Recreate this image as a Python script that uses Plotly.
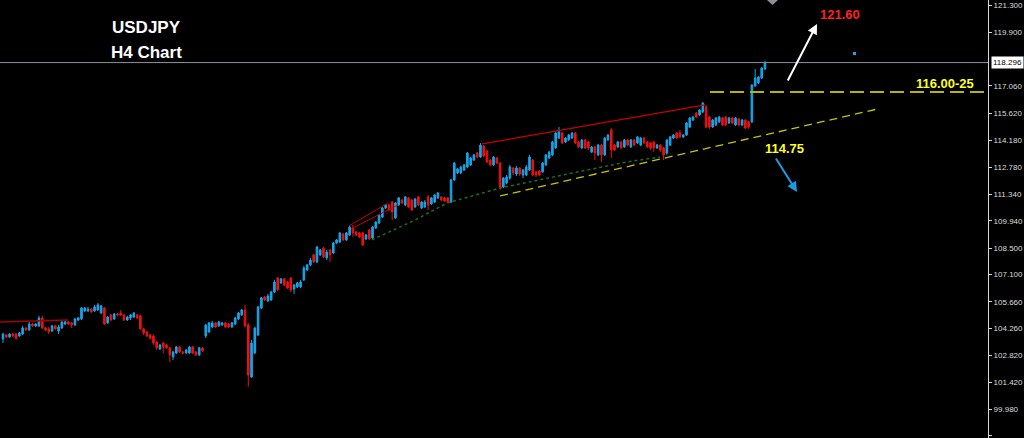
import plotly.graph_objects as go

# ---------------- data (USDJPY H4 candles) ----------------
opens = [
    103.70,103.91,103.81,103.96,103.96,103.86,103.96,104.28,104.18,104.49,104.39,104.39,104.81,104.28,104.23,104.12,104.39,104.12,104.28,104.49,
    104.60,104.55,104.44,104.70,104.76,105.18,105.18,105.28,105.18,105.23,105.07,105.34,104.55,104.97,104.76,105.02,105.07,104.97,104.70,
    104.81,104.86,104.97,104.92,104.23,104.07,103.91,103.86,103.54,103.17,103.49,103.38,103.23,102.75,102.96,103.28,103.01,102.96,102.96,103.28,
    103.01,102.86,103.23,103.86,104.07,104.33,104.55,104.39,104.44,104.55,104.49,104.33,104.49,104.76,104.97,105.23,104.44,101.69,102.96,103.91,105.34,
    105.92,105.71,105.76,106.18,106.92,106.66,106.87,106.71,106.92,106.34,106.45,106.45,106.82,107.34,107.61,108.14,107.77,108.14,108.51,107.98,
    108.40,108.24,108.77,108.82,109.24,108.93,109.19,109.56,109.35,109.30,109.30,108.98,109.46,109.03,109.56,109.83,110.14,
    110.62,110.78,110.93,110.09,110.78,111.04,110.78,111.15,111.04,110.67,111.20,110.62,110.67,111.20,110.83,110.93,111.15,111.20,111.15,111.15,
    110.93,112.10,112.47,112.47,112.62,112.78,112.89,113.15,113.52,113.31,113.89,113.63,113.15,112.89,113.26,112.99,111.73,111.94,
    112.20,112.73,112.41,112.73,112.36,112.36,112.62,113.15,112.52,112.57,112.52,112.89,113.26,113.42,113.79,114.31,114.58,114.10,114.21,114.31,
    114.58,114.10,113.79,114.21,114.10,113.57,113.84,113.42,113.94,113.42,114.21,114.74,113.94,113.84,114.10,113.84,114.21,113.84,114.21,114.05,
    113.94,114.31,114.10,114.05,114.10,113.79,113.94,113.79,113.52,113.94,114.31,114.58,114.58,114.37,114.47,114.89,115.26,115.63,115.53,115.69,
    115.95,115.42,114.89,115.00,115.16,115.37,115.42,115.11,115.37,115.00,115.32,115.00,115.26,115.16,115.16,117.06,117.22,117.48,117.96,
]
highs = [
    104.02,103.96,104.02,104.02,104.02,104.07,104.39,104.33,104.60,104.55,104.55,104.92,104.92,104.33,104.33,104.44,104.44,104.44,104.65,104.65,
    104.65,104.60,104.81,104.86,105.39,105.39,105.39,105.34,105.50,105.60,105.50,105.39,104.92,105.02,105.07,105.07,105.23,105.02,104.92,
    105.02,105.13,105.02,104.97,104.28,104.12,103.96,103.91,103.60,103.44,103.54,103.44,103.28,103.07,103.33,103.33,103.07,103.17,103.33,103.33,
    103.07,103.28,103.28,104.49,104.60,104.65,104.60,104.65,104.60,104.60,104.55,104.60,104.86,105.13,105.28,105.50,104.55,103.65,104.33,105.44,105.92,
    105.97,106.08,106.24,106.82,106.97,106.92,106.92,106.76,106.97,106.60,106.71,106.82,107.56,107.66,107.98,108.19,108.61,108.45,108.56,108.40,
    108.45,108.82,108.98,109.35,109.30,109.35,109.67,109.72,109.40,109.35,109.35,109.24,109.51,109.67,109.93,110.30,110.67,
    110.83,110.83,110.99,110.93,111.20,111.09,111.25,111.20,111.09,111.15,111.25,110.99,111.04,111.30,111.20,111.36,111.46,111.25,111.20,111.20,
    112.15,113.05,112.73,112.84,112.94,113.57,113.31,113.47,113.57,114.05,113.94,113.68,113.20,113.36,113.31,113.05,112.25,112.36,
    112.89,112.78,112.84,112.78,112.68,112.89,113.42,113.20,112.57,112.62,113.05,113.47,113.63,114.16,114.63,114.89,114.63,114.37,114.52,114.63,
    114.63,114.16,114.26,114.26,114.16,113.89,113.89,114.00,114.00,114.37,114.52,114.84,114.00,114.16,114.16,114.26,114.26,114.26,114.26,114.42,
    114.37,114.37,114.16,114.10,114.16,114.00,114.00,113.84,114.26,114.42,114.52,114.63,114.74,114.52,115.16,115.42,115.48,115.69,115.84,116.21,
    116.06,115.48,115.32,115.42,115.48,115.42,115.48,115.42,115.42,115.42,115.37,115.32,115.32,115.21,117.16,117.96,117.59,118.06,118.38,
]
lows = [
    103.49,103.75,103.75,103.81,103.65,103.81,103.91,104.12,104.12,104.33,104.33,104.33,104.23,104.12,103.96,104.07,104.18,103.96,104.23,104.44,
    104.44,104.28,104.39,104.65,104.70,105.13,105.13,105.07,105.13,105.18,105.02,104.44,104.49,104.65,104.70,104.92,104.92,104.65,104.65,
    104.70,104.81,104.76,104.18,103.91,103.81,103.65,103.38,103.12,103.12,102.96,103.17,102.49,102.59,102.91,102.96,102.91,102.91,102.91,102.91,
    102.80,102.80,103.01,103.75,104.02,104.28,104.28,104.33,104.39,104.28,104.28,104.28,104.44,104.70,104.92,104.33,101.17,101.64,102.91,103.86,105.28,
    105.71,105.65,105.71,106.13,106.24,106.60,106.50,106.34,106.18,106.08,106.39,106.39,106.76,107.29,107.56,107.71,107.71,108.08,107.98,107.87,
    107.77,108.19,108.72,108.77,108.88,108.88,109.14,109.09,109.14,109.03,108.61,108.93,108.93,108.98,109.51,109.77,110.09,
    110.56,110.46,109.98,110.04,110.72,110.83,110.72,110.62,110.46,110.62,110.72,110.56,110.62,110.51,110.78,110.88,111.09,110.99,110.93,110.88,
    110.88,112.04,112.41,112.41,112.57,112.73,112.84,113.10,113.26,113.26,113.31,112.99,112.84,112.84,112.94,111.57,111.67,111.88,
    112.10,112.36,112.31,112.31,112.20,112.31,112.57,112.31,112.25,112.31,112.47,112.84,113.20,113.36,113.73,114.26,114.00,114.05,114.16,114.26,
    114.00,113.79,113.73,113.73,113.68,113.52,113.15,113.36,113.05,113.36,114.16,113.26,113.63,113.79,113.73,113.79,113.89,113.79,113.89,114.00,
    113.89,114.00,113.79,113.68,113.57,113.73,113.57,113.15,113.42,113.89,114.26,114.26,114.31,114.31,114.42,114.84,115.21,115.37,115.48,115.63,
    114.84,114.79,114.84,114.95,115.11,114.95,114.95,115.05,115.05,114.95,114.95,114.95,114.79,114.79,115.11,117.01,117.16,117.43,117.90,
]
closes = [
    103.96,103.81,103.96,103.86,103.75,104.02,104.28,104.18,104.49,104.39,104.49,104.81,104.28,104.18,104.07,104.39,104.23,104.33,104.60,104.60,
    104.49,104.44,104.76,104.81,105.34,105.34,105.28,105.13,105.39,105.50,105.44,104.49,104.86,104.70,105.02,104.97,104.97,104.70,104.86,
    104.97,105.07,104.81,104.23,104.02,103.86,103.75,103.49,103.23,103.38,103.28,103.23,102.86,103.01,103.28,103.01,102.96,103.12,103.28,102.96,
    102.86,103.23,103.07,104.44,104.55,104.55,104.33,104.60,104.55,104.33,104.33,104.55,104.81,105.07,105.23,104.39,101.80,103.49,104.28,105.39,105.87,
    105.76,105.97,106.18,106.71,106.29,106.87,106.55,106.39,106.29,106.55,106.66,106.71,107.45,107.61,107.87,107.77,108.56,108.40,108.03,108.29,
    108.14,108.77,108.93,109.30,108.93,109.30,109.61,109.30,109.19,109.09,108.66,109.19,108.98,109.61,109.88,110.25,110.62,
    110.78,110.51,110.41,110.88,111.15,110.88,111.20,110.67,110.51,111.09,110.78,110.93,110.93,110.78,111.15,111.30,111.41,111.04,110.99,110.93,
    112.10,112.99,112.68,112.78,112.89,113.52,113.26,113.42,113.31,113.94,113.36,113.05,112.89,113.31,112.99,111.73,112.20,112.25,
    112.78,112.47,112.73,112.41,112.62,112.78,113.31,112.36,112.36,112.36,112.99,113.42,113.57,114.10,114.58,114.63,114.05,114.31,114.47,114.58,
    114.05,113.84,114.21,113.79,113.79,113.84,113.52,113.94,113.42,114.31,114.47,113.68,113.68,114.10,113.79,114.21,113.94,114.21,113.94,114.37,
    114.31,114.05,113.84,113.79,113.79,113.94,113.68,113.42,114.21,114.37,114.47,114.31,114.37,114.47,115.11,115.37,115.42,115.42,115.79,116.16,
    114.89,114.89,115.26,115.37,115.42,115.00,115.00,115.37,115.11,115.37,115.00,115.26,114.84,114.89,117.11,117.48,117.53,118.01,118.30,
]
last_price = 118.296

# drawn objects (bar index, price)
support_x, support_y = [-0.9, 19.9], [104.60, 104.70]
wedge1_x, wedge1_y = [105.8, 117.7], [109.67, 110.88]
wedge2_x, wedge2_y = [106.4, 120.8], [109.51, 110.78]
channel_x, channel_y = [146.5, 214.7], [114.00, 116.06]
trend_x, trend_y = [152.0, 267.3], [111.25, 115.84]
ma_x = [112.8, 126.0, 135.8, 152.0, 174.3, 190.8, 200.9]
ma_y = [108.93, 109.98, 110.88, 111.67, 112.47, 113.05, 113.31]
level_x, level_y = [216.2, 301.2], [116.74, 116.74]

# 118.480 sits under the current-price box in the reference, so it is left out
tick_vals = [121.300, 119.900, 117.060, 115.620, 114.180, 112.780, 111.340, 109.940,
             108.500, 107.100, 105.660, 104.260, 102.820, 101.420, 99.980, 98.580]
tick_text = ["%.3f" % v for v in tick_vals]

BLUE = "#16a6ea"
RED = "#f01010"

fig = go.Figure()
fig.add_trace(go.Candlestick(
    x=list(range(len(closes))), open=opens, high=highs, low=lows, close=closes,
    increasing=dict(line=dict(color=BLUE, width=1), fillcolor=BLUE),
    decreasing=dict(line=dict(color=RED, width=1), fillcolor=RED),
    whiskerwidth=0, hoverinfo="skip", showlegend=False))

def line(xs, ys, color, width=1, dash="solid"):
    fig.add_trace(go.Scatter(x=xs, y=ys, mode="lines", hoverinfo="skip", showlegend=False,
                             line=dict(color=color, width=width, dash=dash)))

line(support_x, support_y, "#a80000", 1.5)
line(wedge1_x, wedge1_y, "#c80000", 1)
line(wedge2_x, wedge2_y, "#c80000", 1)
line(channel_x, channel_y, "#c80000", 1.2)
line(ma_x, ma_y, "#1d6e1d", 1.5, "dot")
line(trend_x, trend_y, "#c8c400", 1.3, "8px,5px")
line(level_x, level_y, "#b8b400", 2, "14px,6px")

fig.add_shape(type="line", xref="paper", yref="y", x0=0, x1=1, y0=last_price, y1=last_price,
              line=dict(color="#8d929b", width=1), layer="below")

W = 988.0
H = 438.0
def px(x):
    return x / W
def py(y):
    return 1 - y / H

# small marker decorations
fig.add_shape(type="path", xref="paper", yref="paper",
              path="M %f %f L %f %f L %f %f Z" % (px(767), py(0), px(778), py(0), px(772.5), py(5)),
              fillcolor="#8a8f99", line=dict(width=0))
fig.add_shape(type="rect", xref="paper", yref="paper", x0=px(853), x1=px(856), y0=py(55), y1=py(52),
              fillcolor=BLUE, line=dict(width=0))

ann = []
font_b = "Liberation Sans, Arial, sans-serif"
ann.append(dict(x=px(146), y=py(27.5), xref="paper", yref="paper", text="<b>USDJPY</b>", showarrow=False,
                font=dict(family=font_b, size=17, color="white"), xanchor="center", yanchor="middle"))
ann.append(dict(x=px(146), y=py(53), xref="paper", yref="paper", text="<b>H4 Chart</b>", showarrow=False,
                font=dict(family=font_b, size=17, color="white"), xanchor="center", yanchor="middle"))
ann.append(dict(x=px(840), y=py(14), xref="paper", yref="paper", text="<b>121.60</b>", showarrow=False,
                font=dict(family=font_b, size=13, color="#ff2020"), xanchor="center", yanchor="middle"))
ann.append(dict(x=px(945), y=py(83), xref="paper", yref="paper", text="<b>116.00-25</b>", showarrow=False,
                font=dict(family=font_b, size=13, color="#ffff20"), xanchor="center", yanchor="middle"))
ann.append(dict(x=px(784), y=py(148), xref="paper", yref="paper", text="<b>114.75</b>", showarrow=False,
                font=dict(family=font_b, size=13, color="#ffff20"), xanchor="center", yanchor="middle"))
ann.append(dict(x=px(817), y=py(24), xref="paper", yref="paper", text="", showarrow=True,
                ax=-30, ay=58, axref="pixel", ayref="pixel", arrowhead=2, arrowsize=1, arrowwidth=2,
                arrowcolor="white", standoff=0))
ann.append(dict(x=px(797), y=py(192), xref="paper", yref="paper", text="", showarrow=True,
                ax=-22, ay=-35, axref="pixel", ayref="pixel", arrowhead=2, arrowsize=1, arrowwidth=2,
                arrowcolor="#1e9be0", standoff=0))
ann.append(dict(x=1, y=last_price, xref="paper", yref="y", text="118.296", showarrow=False,
                xanchor="left", yanchor="middle", xshift=3, bgcolor="white", borderpad=1,
                font=dict(family="Liberation Sans, Arial", size=8, color="black")))

fig.update_layout(
    width=1024, height=438,
    margin=dict(l=0, r=36, t=0, b=0),
    paper_bgcolor="black", plot_bgcolor="black",
    showlegend=False,
    annotations=ann,
    xaxis=dict(visible=False, range=[-0.92, 301.2], rangeslider=dict(visible=False)),
    yaxis=dict(range=[98.47, 121.6], side="right", showgrid=False, zeroline=False,
               showline=True, linecolor="#d8d8d8", linewidth=1,
               ticks="outside", ticklen=3, tickcolor="#d8d8d8",
               tickvals=tick_vals, ticktext=tick_text,
               tickfont=dict(family="Liberation Sans, Arial", size=8, color="#dcdcdc")),
)

fig.write_html("out.html",
               config={"displayModeBar": False, "staticPlot": True},
               post_script="document.body.style.margin='0';document.body.style.padding='0';"
                           "document.body.style.background='black';document.body.style.overflow='hidden';")
